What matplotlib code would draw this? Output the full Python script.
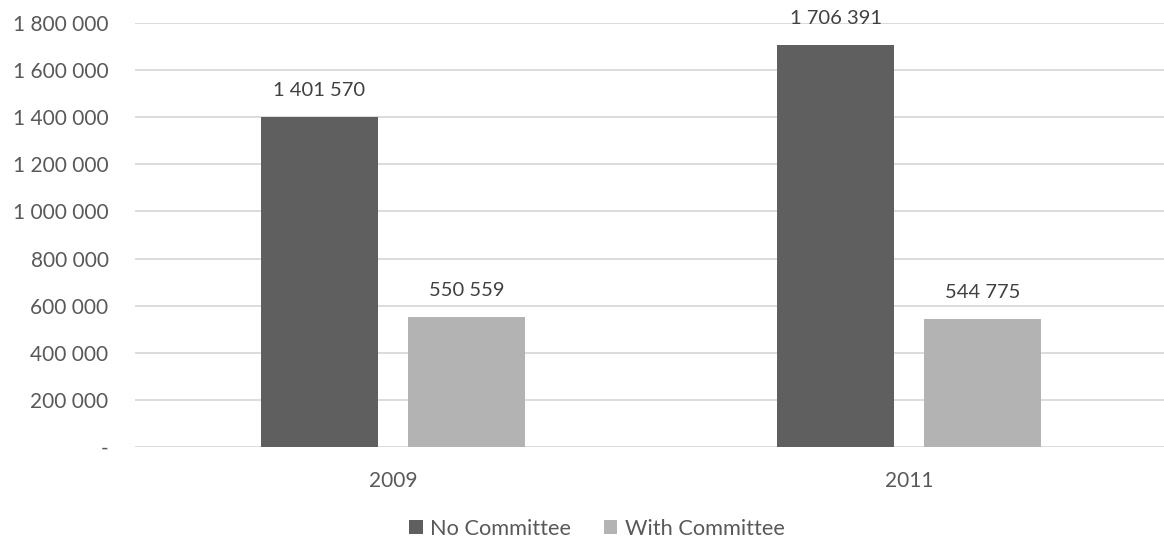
import matplotlib
matplotlib.use("Agg")
import matplotlib.pyplot as plt
from matplotlib.ticker import FuncFormatter, MultipleLocator
import numpy as np

# budget figures per year
years = ["2009", "2011"]
no_committee = [1401570, 1706391]
with_committee = [550559, 544775]

plt.rcParams['font.family'] = ['Lato', 'DejaVu Sans']
text_grey = "#595959"

fig = plt.figure(figsize=(11.64, 5.43), dpi=100)
ax = fig.add_axes([135 / 1164, 96 / 543, 1032 / 1164, 424 / 543])

x = np.arange(len(years))
w = 0.225
off = 0.1424
b1 = ax.bar(x - off, no_committee, w, color="#5f5f5f", label="No Committee", zorder=2)
b2 = ax.bar(x + off, with_committee, w, color="#b3b3b3", label="With Committee", zorder=2)


def spaced(v, pos=None):
    if v == 0:
        return "-"
    return f"{int(round(v)):,}".replace(",", " ")


for bars in (b1, b2):
    for rect in bars:
        ax.annotate(spaced(rect.get_height()),
                    (rect.get_x() + rect.get_width() / 2, rect.get_height()),
                    xytext=(0, 13), textcoords="offset points",
                    ha="center", va="bottom", fontsize=14.5, color="#404040")

ax.set_xlim(-0.5, 1.5)
ax.set_ylim(0, 1800000)
ax.yaxis.set_major_locator(MultipleLocator(200000))
ax.yaxis.set_major_formatter(FuncFormatter(spaced))
ax.set_xticks(x)
ax.set_xticklabels(years)

ax.grid(axis="y", color="#d9d9d9", linewidth=1.3, zorder=0)
for s in ax.spines.values():
    s.set_visible(False)
ax.tick_params(length=0, labelsize=15, labelcolor=text_grey)
ax.tick_params(axis="y", pad=19)
ax.tick_params(axis="x", pad=17)

fig.legend(loc="center", bbox_to_anchor=(597 / 1164, 14 / 543), ncol=2, frameon=False,
           fontsize=15.7, labelcolor=text_grey, handlelength=0.6, handleheight=0.6,
           handletextpad=0.35, columnspacing=1.5)

fig.savefig("out.png", dpi=100)
